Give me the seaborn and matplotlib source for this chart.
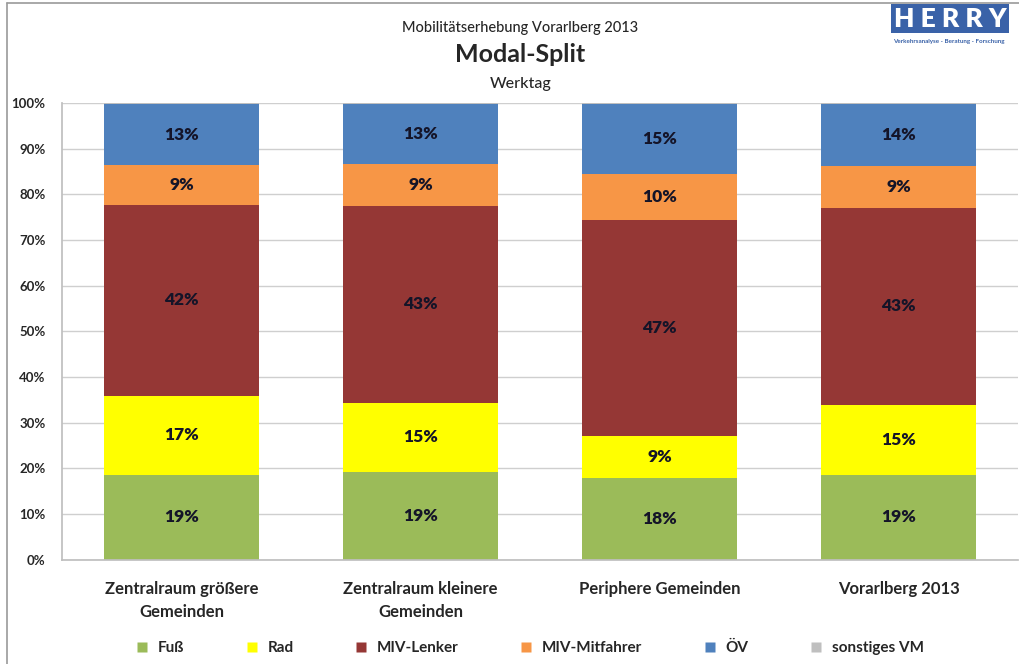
import matplotlib
matplotlib.use("Agg")
import matplotlib.pyplot as plt
import seaborn as sns
import numpy as np
import pandas as pd
from matplotlib.lines import Line2D

categories = ["Zentralraum größere\nGemeinden", "Zentralraum kleinere\nGemeinden",
              "Periphere Gemeinden", "Vorarlberg 2013"]
series_names = ["Fuß", "Rad", "MIV-Lenker", "MIV-Mitfahrer", "ÖV", "sonstiges VM"]
fuss = [18.6, 19.3, 17.9, 18.6]
rad = [17.3, 15.1, 9.2, 15.3]
miv_lenker = [41.8, 43.1, 47.3, 43.1]
miv_mitfahrer = [8.7, 9.2, 10.1, 9.2]
oev = [13.3, 13.0, 15.2, 13.6]
sonstiges = [0.3, 0.3, 0.3, 0.2]
colors = ["#9BBB59", "#FFFF00", "#953735", "#F79646", "#4F81BD", "#BFBFBF"]
yticks = [0, 10, 20, 30, 40, 50, 60, 70, 80, 90, 100]

sns.set_theme(style="white")
plt.rcParams['font.family'] = ['Lato', 'DejaVu Sans']

series = [fuss, rad, miv_lenker, miv_mitfahrer, oev, sonstiges]
cum = np.cumsum(np.array(series), axis=0)

fig = plt.figure(figsize=(10.2, 6.64), dpi=100)
ax = fig.add_axes([0.061, 0.157, 0.937, 0.688])

# draw cumulative bars from top series down
for i in reversed(range(len(series))):
    df = pd.DataFrame({"cat": categories, "val": cum[i]})
    sns.barplot(data=df, x="cat", y="val", color=colors[i], width=0.65,
                saturation=1, ax=ax, zorder=2, edgecolor="none", linewidth=0)

# labels
for i in range(5):
    vals = series[i]
    bottoms = cum[i] - np.array(vals)
    for j, v in enumerate(vals):
        ax.text(j, bottoms[j] + v / 2, f"{v:.0f}%", ha="center", va="center",
                fontsize=12.5, fontweight="heavy", color="#141428", zorder=3)

ax.set_ylim(0, 100)
ax.set_xlim(-0.5, 3.5)
ax.set_yticks(yticks)
ax.set_yticklabels([f"{t}%" for t in yticks], fontsize=9.5, fontweight="bold")
ax.set_xticks(range(len(categories)))
ax.set_xticklabels(categories, fontsize=12, fontweight="bold", linespacing=1.55)
ax.set_xlabel("")
ax.set_ylabel("")
ax.yaxis.grid(True, color="#CFCFCF", linewidth=1, zorder=0)
ax.set_axisbelow(True)
for s in ["top", "right"]:
    ax.spines[s].set_visible(False)
for s in ["left", "bottom"]:
    ax.spines[s].set_color("#BFBFBF")
ax.tick_params(axis="y", length=4, color="#BFBFBF", pad=8)
ax.tick_params(axis="x", length=0, pad=15)

# titles
fig.text(0.51, 0.958, "Mobilitätserhebung Vorarlberg 2013", ha="center", va="center",
         fontsize=10.5, fontweight="medium")
fig.text(0.51, 0.918, "Modal-Split", ha="center", va="center", fontsize=18, fontweight="bold")
fig.text(0.51, 0.873, "Werktag", ha="center", va="center", fontsize=11.5, fontweight="medium")

# logo
fig.text(0.876, 0.972, "H E R R Y", ha="left", va="center", fontsize=19, fontweight="heavy",
         color="white", bbox=dict(boxstyle="square,pad=0.1", facecolor="#3A62A8",
                                  edgecolor="none"))
fig.text(0.876, 0.937, "Verkehrsanalyse - Beratung - Forschung", ha="left", va="center",
         fontsize=4.5, color="#3A62A8", fontweight="bold")

# frame
fig.add_artist(Line2D([0.007, 0.007], [0, 0.995], transform=fig.transFigure,
                      color="#9A9A9A", linewidth=1.2))
fig.add_artist(Line2D([0.007, 1.0], [0.995, 0.995], transform=fig.transFigure,
                      color="#9A9A9A", linewidth=1.2))

# legend
handles = [Line2D([0], [0], marker="s", linestyle="none", markersize=7,
                  markerfacecolor=c, markeredgecolor="none") for c in colors]
leg = fig.legend(handles, series_names, loc="center", bbox_to_anchor=(0.515, 0.024),
                 ncol=6, frameon=False, handletextpad=0.05, columnspacing=3.4,
                 prop={"weight": "bold", "size": 11})

fig.savefig("out.png", dpi=100)
